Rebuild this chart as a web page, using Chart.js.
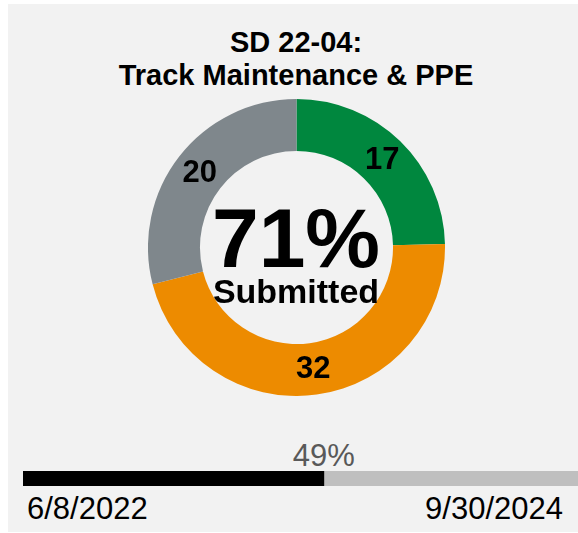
<!DOCTYPE html>
<html>
<head>
<meta charset="utf-8">
<script src="https://cdn.jsdelivr.net/npm/chart.js@4/dist/chart.umd.min.js"></script>
<style>
  html, body { margin: 0; padding: 0; background: #ffffff; overflow: hidden; }
  body { width: 578px; height: 533px; position: relative; font-family: "Liberation Sans", Arial, sans-serif; }
  #panel { position: absolute; left: 8px; top: 4px; width: 570px; height: 528px; background: #f2f2f2; overflow: hidden; }
  .txt { position: absolute; white-space: nowrap; }
  #title { left: 88px; top: 21.5px; width: 400px; text-align: center; font-weight: bold; font-size: 29px; line-height: 33px; color: #000; }
  #pct { left: 88px; top: 191.9px; width: 400px; text-align: center; font-weight: bold; font-size: 84px; line-height: 84px; color: #000; }
  #pctLabel { left: 88px; top: 270.2px; width: 400px; text-align: center; font-weight: bold; font-size: 34px; line-height: 34px; color: #000; }
  #donutWrap { position: absolute; left: 140px; top: 95px; width: 297px; height: 297px; }
  #barWrap { position: absolute; left: 15px; top: 467px; width: 614px; height: 15px; }
  #elapsed { top: 435.8px; width: 100px; text-align: center; font-size: 31px; line-height: 31px; color: #595959; }
  #startDate { left: 19px; top: 488.8px; font-size: 31px; line-height: 31px; color: #000; }
  #endDate { right: 15px; top: 488.8px; font-size: 31px; line-height: 31px; color: #000; text-align: right; }
</style>
</head>
<body>
<div id="panel">
  <div id="title" class="txt">SD 22-04:<br>Track Maintenance &amp; PPE</div>
  <div id="donutWrap"><canvas id="donut" width="297" height="297"></canvas></div>
  <div id="pct" class="txt"></div>
  <div id="pctLabel" class="txt">Submitted</div>
  <div id="elapsed" class="txt"></div>
  <div id="barWrap"><canvas id="bar" width="614" height="15"></canvas></div>
  <div id="startDate" class="txt"></div>
  <div id="endDate" class="txt"></div>
</div>
<script>
// status breakdown (clockwise from top)
const statuses = ['Accepted', 'Under Review', 'Not Submitted'];
const statusCounts = [17, 32, 20];
const statusColors = ['#00873e', '#ed8b00', '#7f878c'];
const submittedIdx = [0, 1];

// timeline
const timelineDates = ['6/8/2022', '9/30/2024'];
const timeElapsed = [49];
const timeRemaining = [51];

const total = statusCounts.reduce((a, b) => a + b, 0);
const submitted = submittedIdx.reduce((a, i) => a + statusCounts[i], 0);
document.getElementById('pct').textContent = Math.round(submitted / total * 100) + '%';
document.getElementById('startDate').textContent = timelineDates[0];
document.getElementById('endDate').textContent = timelineDates[1];

// numbers drawn in the middle of each ring segment
const sliceLabels = {
    id: 'sliceLabels',
    afterDatasetsDraw(chart) {
        const ctx = chart.ctx;
        const meta = chart.getDatasetMeta(0);
        ctx.save();
        ctx.font = 'bold 31px "Liberation Sans", Arial, sans-serif';
        ctx.fillStyle = '#000';
        ctx.textAlign = 'center';
        ctx.textBaseline = 'middle';
        meta.data.forEach((arc, i) => {
            const p = arc.tooltipPosition();
            ctx.fillText(String(chart.data.datasets[0].data[i]), p.x, p.y + 1);
        });
        ctx.restore();
    }
};

new Chart(document.getElementById('donut'), {
    type: 'doughnut',
    data: {
        labels: statuses,
        datasets: [{
            data: statusCounts,
            backgroundColor: statusColors,
            borderWidth: 0
        }]
    },
    options: {
        responsive: false,
        animation: false,
        cutout: '65%',
        layout: { padding: 0 },
        plugins: { legend: { display: false }, tooltip: { enabled: false } }
    },
    plugins: [sliceLabels]
});

const barChart = new Chart(document.getElementById('bar'), {
    type: 'bar',
    data: {
        labels: ['Timeline'],
        datasets: [
            { label: 'Elapsed', data: timeElapsed, backgroundColor: '#000000', borderWidth: 0 },
            { label: 'Remaining', data: timeRemaining, backgroundColor: '#bfbfbf', borderWidth: 0 }
        ]
    },
    options: {
        indexAxis: 'y',
        responsive: false,
        animation: false,
        layout: { padding: 0 },
        datasets: { bar: { barPercentage: 1, categoryPercentage: 1 } },
        scales: {
            x: { display: false, stacked: true, min: 0, max: 100 },
            y: { display: false, stacked: true }
        },
        plugins: { legend: { display: false }, tooltip: { enabled: false } }
    }
});

// percentage label sits centred over the end of the elapsed bar
const endPx = barChart.scales.x.getPixelForValue(timeElapsed[0]);
const elapsedEl = document.getElementById('elapsed');
elapsedEl.textContent = timeElapsed[0] + '%';
elapsedEl.style.left = (15 + endPx - 50) + 'px';
</script>
</body>
</html>
